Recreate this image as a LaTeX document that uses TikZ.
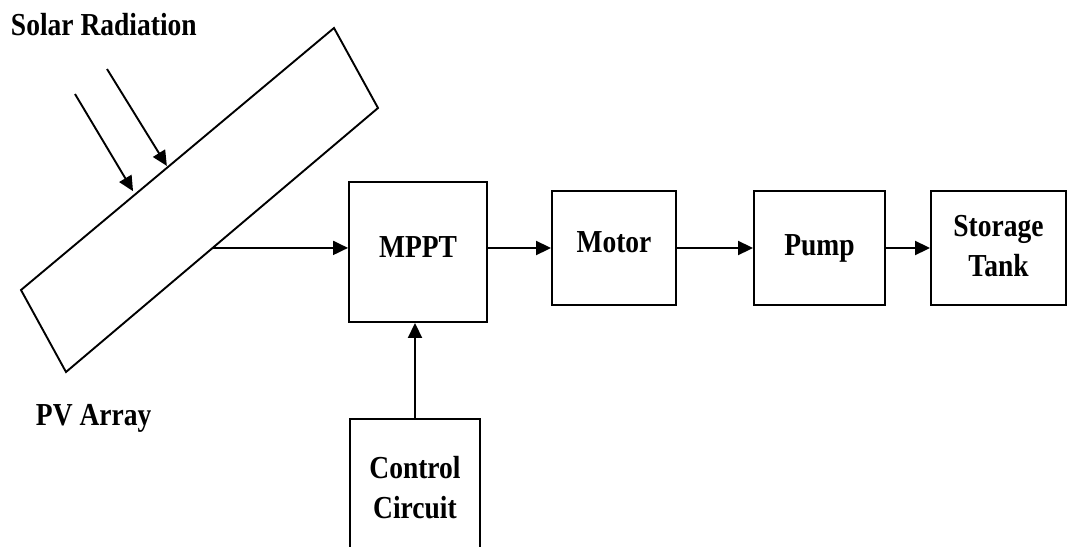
\documentclass[tikz,border=0pt]{standalone}
\usepackage{graphicx}
\usepackage{fontspec}
\setmainfont{Liberation Serif}
\usetikzlibrary{arrows.meta,calc}
% narrow bold label text
\newcommand{\narrowtxt}[1]{\scalebox{0.86}[1]{#1}}
\begin{document}
\begin{tikzpicture}[x=1pt,y=-1pt,
  line width=1.9pt,
  lbl/.style={font=\fontsize{32}{40}\selectfont\bfseries, inner sep=0pt, align=center},
  blockbox/.style={draw, lbl},
  flow/.style={-{Triangle[length=15pt,width=14pt]}}]
\useasboundingbox (0,0) rectangle (1070,546);
\clip (0,0) rectangle (1070,546);

% tilted photovoltaic panel
\coordinate (pvA) at (21,290);
\coordinate (pvB) at (334,28);
\coordinate (pvC) at (378,108);
\coordinate (pvD) at (66,372);
\draw (pvA) -- (pvB) -- (pvC) -- (pvD) -- cycle;

% incoming solar rays
\coordinate (ray1s) at (75,94);
\coordinate (ray2s) at (107,69);
\coordinate (ray1e) at ($(pvA)!0.358!(pvB)+(0,-5)$);
\coordinate (ray2e) at ($(pvA)!0.466!(pvB)+(0,-2)$);
\draw[flow] (ray1s) -- (ray1e);
\draw[flow] (ray2s) -- (ray2e);

% labels
\node[lbl, anchor=west] (solar) at (10,25) {\narrowtxt{Solar Radiation}};
\node[lbl, anchor=west] (pvlabel) at (35,418) {\narrowtxt{PV Array}};

% blocks
\node[blockbox, minimum width=138pt, minimum height=140pt] (mppt) at (418,252) {};
\node[lbl] at (418,247) {\narrowtxt{MPPT}};
\node[blockbox, minimum width=124pt, minimum height=114pt] (motor) at (614,248) {};
\node[lbl] at (614,242) {\narrowtxt{Motor}};
\node[blockbox, minimum width=131pt, minimum height=114pt] (pump) at (819.5,248) {\narrowtxt{Pump}};
\node[blockbox, minimum width=135pt, minimum height=114pt] (tank) at (998.5,248) {\narrowtxt{\begin{tabular}{@{}c@{}}Storage\\Tank\end{tabular}}};
\node[blockbox, minimum width=130pt, minimum height=142pt] (ctrl) at (415,490) {\narrowtxt{\begin{tabular}{@{}c@{}}Control\\Circuit\end{tabular}}};

% connectors
\coordinate (pvout) at ($(pvD)!0.47!(pvC)$);
\draw[flow] (pvout) -- (pvout -| mppt.west);
\draw[flow] (mppt.east |- 0,248) -- (motor.west);
\draw[flow] (motor.east) -- (pump.west);
\draw[flow] (pump.east) -- (pump.east -| tank.west);
\draw[flow] (ctrl.north) -- (ctrl.north |- mppt.south);
\end{tikzpicture}
\end{document}
